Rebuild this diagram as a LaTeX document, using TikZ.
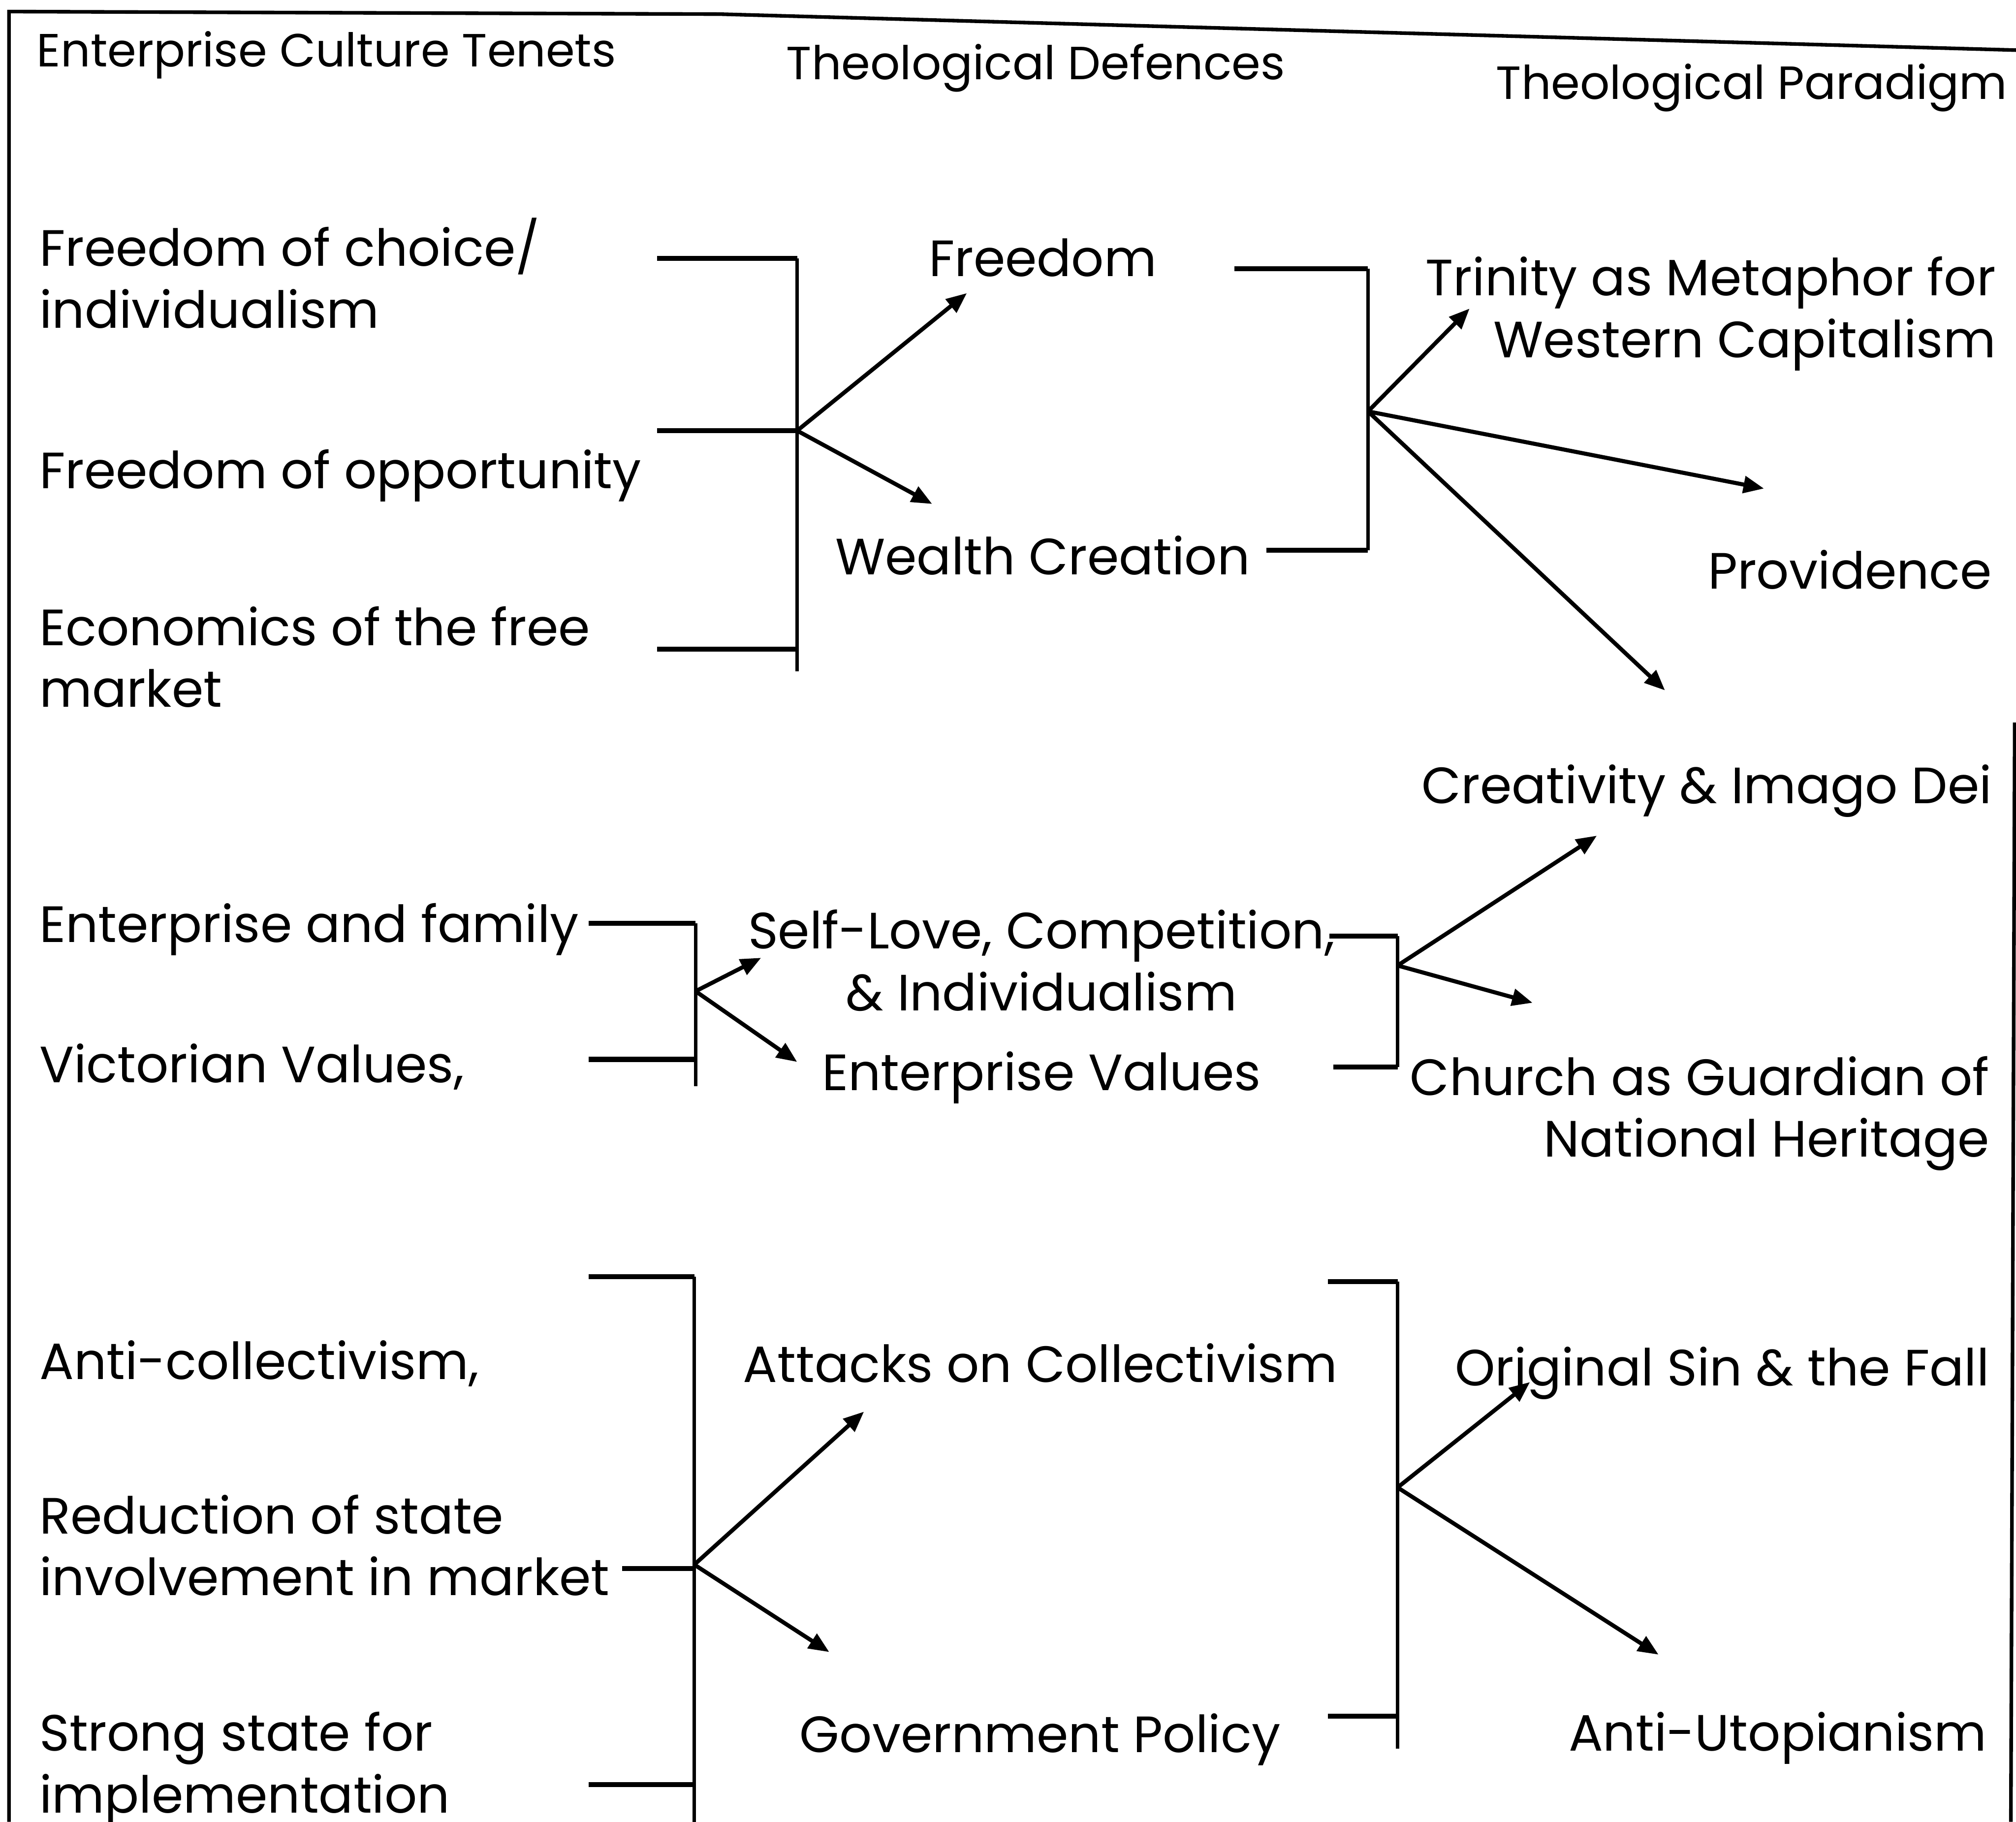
\documentclass[tikz,border=0pt]{standalone}
\usepackage{fontspec}
\setmainfont{Poppins}
\usetikzlibrary{arrows.meta}

\tikzset{
  head/.style={anchor=base west, inner sep=0pt, font=\fontsize{10.3}{13}\selectfont},
  tenet/.style={anchor=base west, inner sep=0pt, align=left, font=\fontsize{11.3}{13.66}\selectfont},
  defence/.style={anchor=base, inner sep=0pt, align=center, font=\fontsize{11.3}{13.66}\selectfont},
  paradigm/.style={anchor=base east, inner sep=0pt, align=right, font=\fontsize{11.3}{13.66}\selectfont},
  frame/.style={line width=0.8pt},
  spine/.style={line width=0.75pt},
  stub/.style={line width=1.1pt},
  link/.style={line width=0.9pt, -{Triangle[length=1.6mm,width=1.3mm]}},
}

\begin{document}
\begin{tikzpicture}[x=0.1mm, y=-0.1mm]
    \useasboundingbox (0,0) rectangle (1568,1417);

    % outer frame (open at the bottom)
    \draw[frame] (7,1417) -- (7,9) -- (560,11) -- (1568,39);
    \draw[frame] (1567,562) -- (1564,1417);

    % column heads
    \node[head] (h1) at (28,52) {Enterprise Culture Tenets};
    \node[head] (h2) at (611,62) {Theological Defences};
    \node[head] (h3) at (1163,77) {Theological Paradigm};

    % enterprise culture tenets (base = last line)
    \node[tenet] (choice) at (30,255) {Freedom of choice/\\individualism};
    \node[tenet] (opport) at (30,380) {Freedom of opportunity};
    \node[tenet] (freemkt) at (30,550) {Economics of the free\\market};
    \node[tenet] (family) at (30,733) {Enterprise and family};
    \node[tenet] (victor) at (30,842) {Victorian Values,};
    \node[tenet] (anticol) at (30,1073) {Anti-collectivism,};
    \node[tenet] (reduce) at (30,1241) {Reduction of state\\involvement in market};
    \node[tenet] (strong) at (30,1410) {Strong state for\\implementation};

    % theological defences
    \node[defence] (freedom) at (811,215) {Freedom};
    \node[defence] (wealth) at (811,447) {Wealth Creation};
    \node[defence] (selflove) at (810,786) {Self-Love, Competition,\\\& Individualism};
    \node[defence] (entval) at (810,848) {Enterprise Values};
    \node[defence] (attacks) at (809,1075) {Attacks on Collectivism};
    \node[defence] (govpol) at (809,1363) {Government Policy};

    % theological paradigm
    \node[paradigm] (trinity) at (1553,278) {Trinity as Metaphor for\\Western Capitalism};
    \node[paradigm] (provid) at (1550,458) {Providence};
    \node[paradigm] (imago) at (1550,625) {Creativity \& Imago Dei};
    \node[paradigm] (church) at (1548,900) {Church as Guardian of\\National Heritage};
    \node[paradigm] (sin) at (1548,1078) {Original Sin \& the Fall};
    \node[paradigm] (utopia) at (1546,1362) {Anti-Utopianism};

    % brackets
    \draw[spine] (620,201) -- (620,522);
    \foreach \y in {201,335,505} \draw[stub] (511,\y) -- (620,\y);
    \draw[spine] (1064,209) -- (1064,428);
    \draw[stub] (960,209) -- (1064,209);
    \draw[stub] (985,428) -- (1064,428);
    \draw[spine] (541,718) -- (541,845);
    \foreach \y in {718,824} \draw[stub] (458,\y) -- (541,\y);
    \draw[spine] (1087,728) -- (1087,830);
    \draw[stub] (1034,728) -- (1087,728);
    \draw[stub] (1037,830) -- (1087,830);
    \draw[spine] (540,993) -- (540,1417);
    \draw[stub] (458,993) -- (540,993);
    \draw[stub] (484,1220) -- (540,1220);
    \draw[stub] (458,1388) -- (540,1388);
    \draw[spine] (1087,997) -- (1087,1360);
    \foreach \y in {997,1335} \draw[stub] (1033,\y) -- (1087,\y);

    % junctions and arrow tips
    \coordinate (j1) at (620,335);
    \coordinate (j2) at (1064,320);
    \coordinate (j3) at (541,771);
    \coordinate (j4) at (1087,751);
    \coordinate (j5) at (540,1217);
    \coordinate (j6) at (1087,1157);
    \foreach \n/\x/\y in {a/752/228, b/725/392, c/1143/240, d/1372/380, e/1295/537,
                          f/592/745, g/620/826, h/1242/650, i/1192/780,
                          k/672/1098, l/645/1285, m/1190/1075, n/1290/1287}
        \coordinate (tip\n) at (\x,\y);

    \foreach \j/\t in {j1/a, j1/b, j2/c, j2/d, j2/e, j3/f, j3/g,
                       j4/h, j4/i, j5/k, j5/l, j6/m, j6/n}
        \draw[link] (\j) -- (tip\t);
\end{tikzpicture}
\end{document}
